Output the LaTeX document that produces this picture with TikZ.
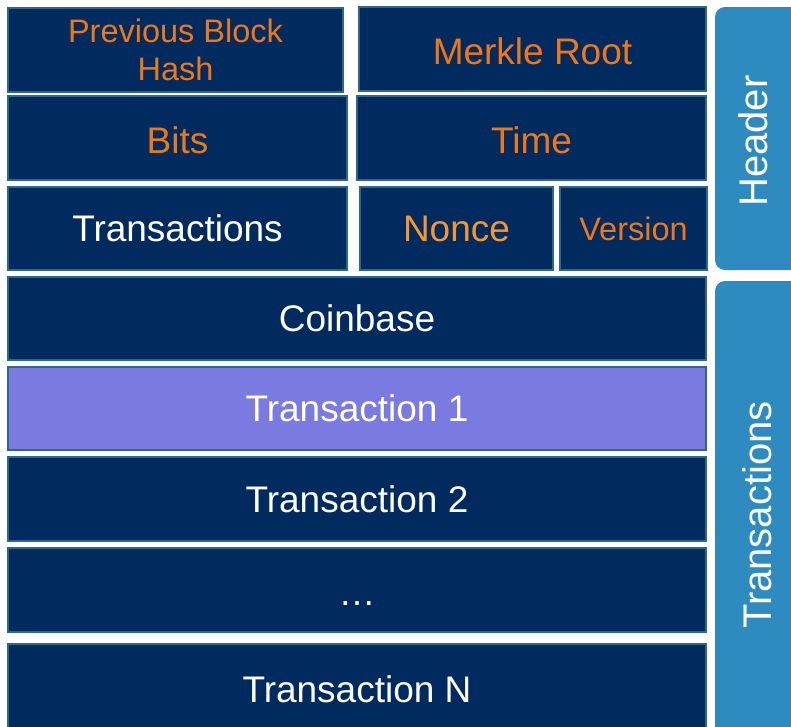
\documentclass[tikz,border=0pt]{standalone}
\usepackage{fontspec}
\setmainfont{Liberation Sans}
\definecolor{navy}{RGB}{1,43,94}
\definecolor{cellborder}{RGB}{44,104,142}
\definecolor{fieldorange}{RGB}{238,120,22}
\definecolor{nonceorange}{RGB}{246,150,48}
\definecolor{lavender}{RGB}{122,122,224}
\definecolor{sidebar}{RGB}{46,139,192}
\tikzset{
  cell/.style={draw=cellborder, fill=navy, line width=1.6pt, inner sep=0pt,
    text=white, align=center, font=\fontsize{37}{40}\selectfont},
  field/.style={cell, text=fieldorange},
  smallfield/.style={field, font=\fontsize{32.5}{38}\selectfont},
  sidebox/.style={fill=sidebar, rounded corners=10pt},
  sidelabel/.style={text=white, rotate=90, font=\fontsize{40}{44}\selectfont, inner sep=0pt}
}
\begin{document}
\begin{tikzpicture}[x=1pt, y=-1pt]
  \useasboundingbox (0,0) rectangle (791,726);
  \clip (0,0) rectangle (791,726);
  \fill[white] (0,0) rectangle (791,726);

  % header fields
  \node[smallfield, minimum width=335pt, minimum height=84pt] (prev) at (175.5,50) {Previous Block\\Hash};
  \node[field, minimum width=347pt, minimum height=84pt, text depth=0pt, text height=30pt] (merkle) at (532.5,49) {Merkle Root};
  \node[field, minimum width=339pt, minimum height=84pt, text depth=0pt, text height=30pt] (bits) at (177.5,138) {Bits};
  \node[field, minimum width=349pt, minimum height=84pt, text depth=0pt, text height=30pt] (time) at (531.5,138) {Time};
  \node[cell, minimum width=339pt, minimum height=83pt] (txcount) at (177.5,228.5) {Transactions};
  \node[field, text=nonceorange, minimum width=193pt, minimum height=83pt] (nonce) at (456.5,228.5) {Nonce};
  \node[smallfield, minimum width=147pt, minimum height=83pt] (version) at (633.5,228.5) {Version};

  % transaction list
  \node[cell, minimum width=698pt, minimum height=83pt] (coinbase) at (357,318.5) {Coinbase};
  \node[cell, fill=lavender, minimum width=698pt, minimum height=83pt] (tx1) at (357,408.5) {Transaction 1};
  \node[cell, minimum width=698pt, minimum height=84pt] (tx2) at (357,499) {Transaction 2};
  \node[cell, minimum width=698pt, minimum height=84pt] (dots) at (357,590) {\vphantom{T}\raisebox{-6pt}{…}};
  \node[cell, minimum width=698pt, minimum height=90pt] (txn) at (357,689) {Transaction N};

  % side labels
  \fill[sidebox] (715,7) rectangle (805,270);
  \node[sidelabel] (header) at (753,141) {Header};
  \fill[sidebox] (715,281) rectangle (805,745);
  \node[sidelabel] (transactions) at (757,515) {Transactions};
\end{tikzpicture}
\end{document}
